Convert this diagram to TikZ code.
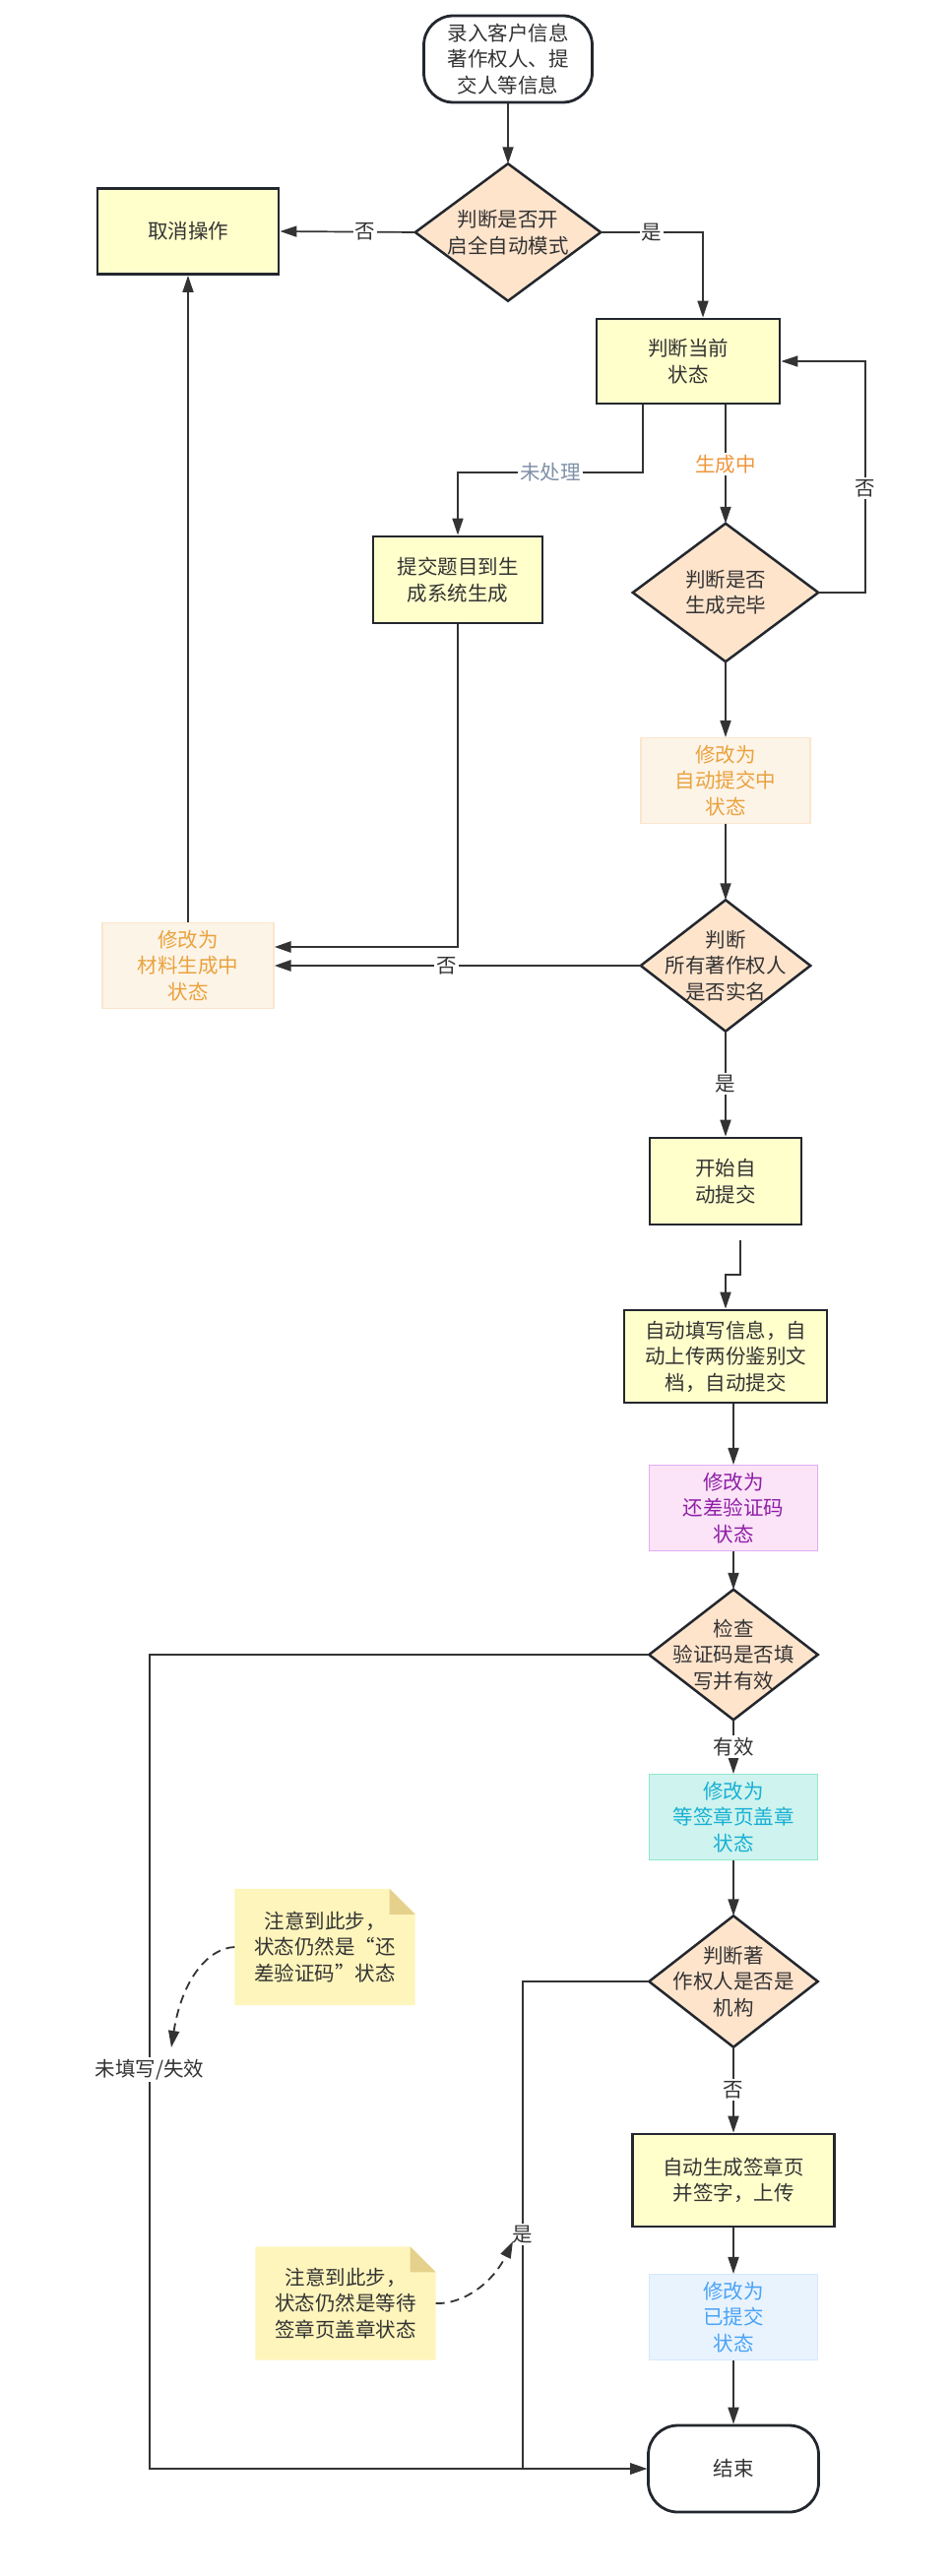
\documentclass[tikz,border=0pt]{standalone}
\usepackage{fontspec}
\setmainfont{Noto Sans CJK SC}
\usetikzlibrary{arrows.meta,backgrounds,calc}
\definecolor{ink}{HTML}{333333}
\definecolor{edgec}{HTML}{23272E}
\definecolor{linec}{HTML}{333333}
\definecolor{procfill}{HTML}{FFFFCC}
\definecolor{diafill}{HTML}{FFE4CC}
\definecolor{orfill}{HTML}{FDF4E8}
\definecolor{ordraw}{HTML}{FBE6CC}
\definecolor{ortext}{HTML}{E9A23D}
\definecolor{pufill}{HTML}{FCE4F8}
\definecolor{pudraw}{HTML}{DFADF3}
\definecolor{putext}{HTML}{8E1EA6}
\definecolor{cyfill}{HTML}{CFF3EE}
\definecolor{cydraw}{HTML}{90E8C9}
\definecolor{cytext}{HTML}{17B0D4}
\definecolor{blfill}{HTML}{E9F3FE}
\definecolor{bldraw}{HTML}{D5E8FC}
\definecolor{bltext}{HTML}{4AA3F5}
\definecolor{notefill}{HTML}{FEF5BC}
\definecolor{foldfill}{HTML}{E5D18C}
\definecolor{graylbl}{HTML}{8090A8}
\definecolor{orlbl}{HTML}{F0953A}
\tikzset{
  base/.style={align=center, text=ink, inner sep=0pt},
  procbox/.style={base, draw=edgec, line width=2.8pt, fill=procfill},
  termbox/.style={base, draw=edgec, line width=2.8pt, fill=white, rounded corners=30pt},
  diabox/.style={base},
  statebox/.style={base, line width=1.2pt},
  orstate/.style={statebox, draw=ordraw, fill=orfill, text=ortext},
  pustate/.style={statebox, draw=pudraw, fill=pufill, text=putext},
  cystate/.style={statebox, draw=cydraw, fill=cyfill, text=cytext},
  blstate/.style={statebox, draw=bldraw, fill=blfill, text=bltext},
  notebox/.style={base},
  arr/.style={draw=linec, line width=1.7pt, -{Triangle[length=17pt,width=11pt]}},
  thickarr/.style={arr, line width=2.7pt},
  darr/.style={draw=linec, line width=1.8pt, dash pattern=on 9pt off 6pt, -{Triangle[length=17pt,width=11pt]}},
  lbl/.style={fill=white, text=ink, inner sep=2pt},
  diashape/.style={fill=diafill, draw=edgec, line width=2.5pt, line join=miter}
}
\begin{document}
\begin{tikzpicture}[x=1pt,y=-1pt, font=\fontsize{20.5}{26.5}\selectfont]
\useasboundingbox (0,0) rectangle (966,2617);
% nodes
\node[termbox, minimum width=171pt, minimum height=88pt] (start) at (516,60) {录入客户信息\\著作权人、提\\交人等信息};
\node[diabox, minimum width=188pt, minimum height=139pt] (d1) at (516,236) {判断是否开\\启全自动模式};
\node[procbox, minimum width=184pt, minimum height=87pt] (cancel) at (191,235) {取消操作};
\node[procbox, minimum width=186pt, minimum height=86pt] (state) at (699,367) {判断当前\\状态};
\node[procbox, minimum width=172pt, minimum height=88pt] (submit) at (465,589) {提交题目到生\\成系统生成};
\node[diabox, minimum width=188pt, minimum height=140pt] (d2) at (737,602) {判断是否\\生成完毕};
\node[orstate, minimum width=172pt, minimum height=87pt] (s1) at (737,793) {修改为\\自动提交中\\状态};
\node[diabox, minimum width=172pt, minimum height=133pt] (d3) at (737,981) {判断\\所有著作权人\\是否实名};
\node[orstate, minimum width=174pt, minimum height=87pt] (s0) at (191,981) {修改为\\材料生成中\\状态};
\node[procbox, minimum width=154pt, minimum height=88pt] (auto) at (737,1200) {开始自\\动提交};
\node[procbox, minimum width=206pt, minimum height=94pt] (fill) at (737,1378) {自动填写信息，自\\动上传两份鉴别文\\档，自动提交};
\node[pustate, minimum width=171pt, minimum height=87pt] (s2) at (745,1532) {修改为\\还差验证码\\状态};
\node[diabox, minimum width=171pt, minimum height=132pt] (d4) at (745,1681) {检查\\验证码是否填\\写并有效};
\node[cystate, minimum width=171pt, minimum height=87pt] (s3) at (745,1846) {修改为\\等签章页盖章\\状态};
\node[diabox, minimum width=171pt, minimum height=133pt] (d5) at (745,2013) {判断著\\作权人是否是\\机构};
\node[procbox, minimum width=205pt, minimum height=94pt] (gen) at (745,2215) {自动生成签章页\\并签字，上传};
\node[blstate, minimum width=171pt, minimum height=87pt] (s4) at (745,2354) {修改为\\已提交\\状态};
\node[termbox, minimum width=173pt, minimum height=88pt] (end) at (745,2508) {结束};
\node[notebox, minimum width=183pt, minimum height=118pt] (note1) at (330,1978) {注意到此步，\\状态仍然是“还\\差验证码”状态};
\node[notebox, minimum width=183pt, minimum height=115pt] (note2) at (351,2340) {注意到此步，\\状态仍然是等待\\签章页盖章状态};
% background shapes
\begin{scope}[on background layer]
  \foreach \d in {d1,d2,d3,d4,d5}{
    \path[diashape] (\d.north) -- (\d.east) -- (\d.south) -- (\d.west) -- cycle;
  }
  \foreach \n in {note1,note2}{
    \fill[notefill] (\n.north west) -- ([xshift=-26pt]\n.north east) -- ([yshift=-26pt]\n.north east) -- (\n.south east) -- (\n.south west) -- cycle;
    \fill[foldfill] ([xshift=-26pt]\n.north east) -- ([yshift=-26pt]\n.north east) -- ([xshift=-26pt,yshift=-26pt]\n.north east) -- cycle;
  }
\end{scope}
% coordinates
\coordinate (c1) at (653,480);
\coordinate (c2) at (465,480);
\coordinate (c3) at (714,236);
\coordinate (c4) at (879,602);
\coordinate (c5) at (879,367);
\coordinate (c6) at (465,962);
\coordinate (c7) at (752,1260);
\coordinate (c8) at (752,1295);
\coordinate (c9) at (737,1295);
\coordinate (c10) at (152,1681);
\coordinate (c11) at (152,2508);
\coordinate (c12) at (531,2013);
\coordinate (c13) at (531,2508);
\coordinate (n1t) at (174,2080);
\coordinate (n2t) at (521,2277);
% connectors
\draw[arr] (start.south) -- (d1.north);
\draw[arr] (d1.west) -- node[lbl,pos=0.37]{否} (cancel.east);
\draw[arr] (d1.east) -- node[lbl]{是} (c3) -- (state.north -| c3);
\draw[arr] (state.south -| c1) -- (c1) -- node[lbl,text=graylbl]{未处理} (c2) -- (submit.north);
\draw[arr] (state.south -| d2.north) -- node[lbl,text=orlbl]{生成中} (d2.north);
\draw[arr] (d2.east) -- (c4) -- node[lbl,pos=0.45]{否} (c5) -- (state.east);
\draw[arr] (d2.south) -- (s1.north);
\draw[arr] (s1.south) -- (d3.north);
\draw[thickarr] (d3.west) -- node[lbl,pos=0.53]{否} (s0.east);
\draw[thickarr] (submit.south) -- (c6) -- (s0.east |- c6);
\draw[arr] (s0.north) -- (cancel.south);
\draw[arr] (d3.south) -- node[lbl]{是} (auto.north);
\draw[arr] (c7) -- (c8) -- (c9) -- (fill.north);
\draw[arr] (fill.south -| s2.north) -- (s2.north);
\draw[arr] (s2.south) -- (d4.north);
\draw[arr] (d4.south) -- node[lbl]{有效} (s3.north);
\draw[thickarr] (d4.west) -- (c10) -- node[lbl,pos=0.51]{未填写/失效} (c11) -- (end.west);
\draw[arr] (s3.south) -- (d5.north);
\draw[arr] (d5.south) -- node[lbl]{否} (gen.north);
\draw[arr] (d5.west) -- (c12) -- node[lbl,pos=0.52]{是} (c13) -- (end.west);
\draw[arr] (gen.south) -- (s4.north);
\draw[arr] (s4.south) -- (end.north);
\draw[darr] (note1.west) .. controls (212,1979) and (185,2010) .. (n1t);
\draw[darr] (note2.east) .. controls (470,2341) and (500,2320) .. (n2t);
\end{tikzpicture}
\end{document}
